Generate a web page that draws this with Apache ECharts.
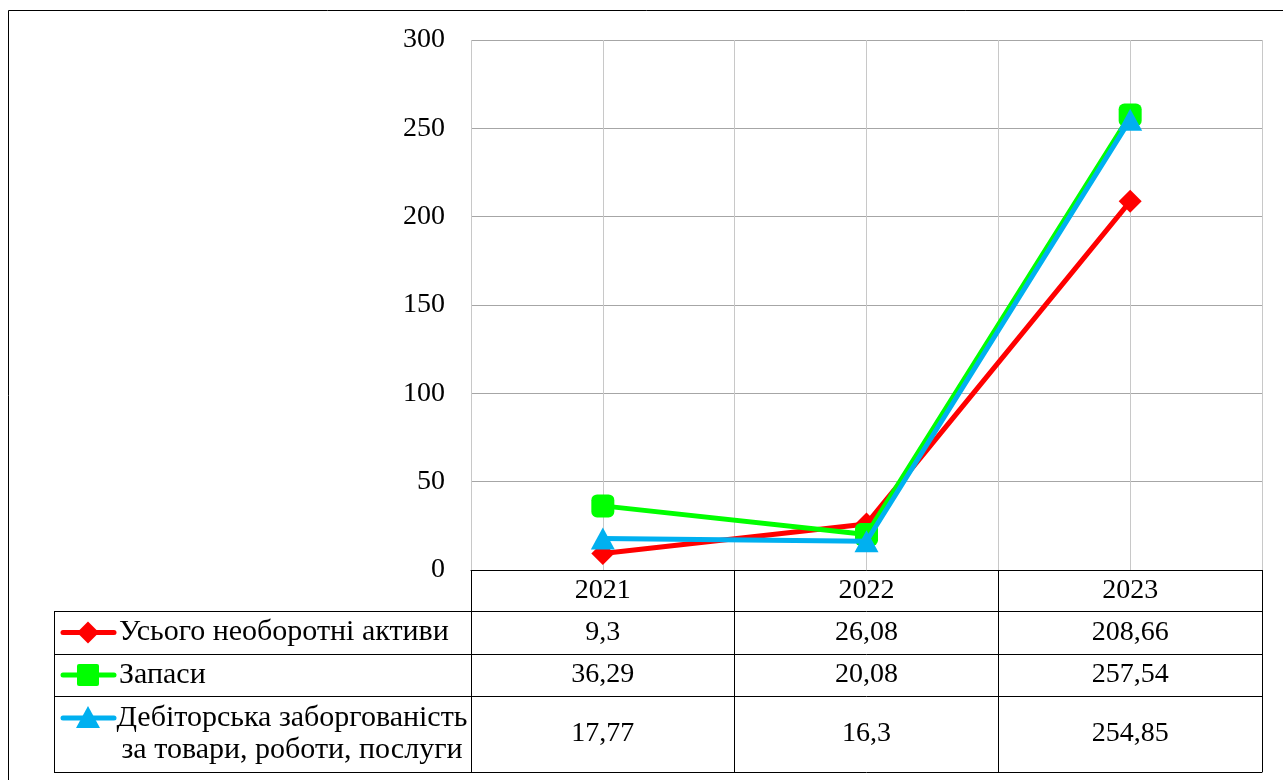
<!DOCTYPE html>
<html>
<head>
<meta charset="utf-8">
<script src="https://cdn.jsdelivr.net/npm/echarts@6/dist/echarts.min.js"></script>
<style>
  html, body { margin: 0; padding: 0; background: #ffffff; }
  #chart { width: 1283px; height: 780px; }
</style>
</head>
<body>
<div id="chart"></div>
<script>
// Years on the category axis
const years = ['2021', '2022', '2023'];

// Series names and values
const seriesNames = [
  'Усього необоротні активи',
  'Запаси',
  'Дебіторська заборгованість\nза товари, роботи, послуги'
];
const nonCurrentAssets = [9.3, 26.08, 208.66];
const inventories = [36.29, 20.08, 257.54];
const receivables = [17.77, 16.3, 254.85];

// Value-axis ticks
const yMin = 0, yMax = 300, yStep = 50;

const FONT = '"Liberation Serif", "Times New Roman", serif';
const NUM_SIZE = 28;
const KEY_SIZE = 30;
const colors = ['#ff0000', '#00ff00', '#00b0f0'];
const symbols = ['diamond', 'roundRect', 'triangle'];
const values = [nonCurrentAssets, inventories, receivables];

// Plot-area geometry
const G = { left: 471, right: 21, top: 40, bottom: 210 };
const plotBottom = 780 - G.bottom;           // 570
const headerH = 41;
const rowHeights = [43, 42, 76];
const tableLeft = 54;

const fmt = v => String(v).replace('.', ',');

const chart = echarts.init(document.getElementById('chart'), null, { renderer: 'canvas' });

// Row top offsets measured from the bottom of the plot
const rowOffsets = [];
let acc = headerH;
rowHeights.forEach(h => { rowOffsets.push(acc); acc += h; });
const tableBottomOffset = acc;

const xAxes = [
  // Year header row; ticks form the column borders
  {
    type: 'category', data: years, gridIndex: 0, position: 'bottom', boundaryGap: true,
    axisLine: { show: true, lineStyle: { color: '#000', width: 1 } },
    axisTick: { show: true, interval: 0, length: headerH, lineStyle: { color: '#000', width: 1 } },
    axisLabel: { fontFamily: FONT, fontSize: NUM_SIZE, color: '#000', margin: headerH / 2, verticalAlign: 'middle' },
    splitLine: { show: false }
  },
  // Half-category grid lines (category centres and boundaries)
  {
    type: 'value', min: 0, max: 6, interval: 1, position: 'top', gridIndex: 0,
    axisLine: { show: false }, axisTick: { show: false }, axisLabel: { show: false },
    splitLine: { show: true, lineStyle: { color: '#c8c8c8', width: 1 } }
  }
];

// One axis per table row, labelled with the series values
values.forEach((arr, i) => {
  xAxes.push({
    type: 'category', data: arr.map(fmt), gridIndex: 0, position: 'bottom',
    offset: rowOffsets[i], boundaryGap: true,
    axisLine: { show: true, lineStyle: { color: '#000', width: 1 } },
    axisTick: { show: true, interval: 0, length: rowHeights[i], lineStyle: { color: '#000', width: 1 } },
    axisLabel: { fontFamily: FONT, fontSize: NUM_SIZE, color: '#000', margin: rowHeights[i] / 2, verticalAlign: 'middle', interval: 0 },
    splitLine: { show: false }
  });
});
// Closing bottom border of the table
xAxes.push({
  type: 'category', data: years, gridIndex: 0, position: 'bottom', offset: tableBottomOffset,
  axisLine: { show: true, lineStyle: { color: '#000', width: 1 } },
  axisTick: { show: false }, axisLabel: { show: false }, splitLine: { show: false }
});

const series = values.map((arr, i) => ({
  name: seriesNames[i],
  type: 'line',
  xAxisIndex: 0,
  yAxisIndex: 0,
  data: arr,
  symbol: symbols[i],
  symbolSize: i === 2 ? [24, 22] : 23,
  itemStyle: { color: colors[i] },
  lineStyle: { color: colors[i], width: 5, cap: 'round', join: 'round' },
  z: 3 + i,
  animation: false
}));

// Legend column of the data table
const rowTops = rowOffsets.map(o => plotBottom + o);
const graphic = [];
// outer frame
graphic.push({ type: 'rect', shape: { x: 8.5, y: 10.5, width: 1300, height: 800 },
  style: { fill: 'none', stroke: '#000', lineWidth: 1 }, silent: true });
// horizontal borders in the legend column
[...rowTops, plotBottom + tableBottomOffset].forEach(y => {
  graphic.push({ type: 'line', shape: { x1: tableLeft, y1: y + 0.5, x2: G.left, y2: y + 0.5 },
    style: { stroke: '#000', lineWidth: 1 }, silent: true });
});
graphic.push({ type: 'line', shape: { x1: tableLeft + 0.5, y1: rowTops[0], x2: tableLeft + 0.5, y2: plotBottom + tableBottomOffset },
  style: { stroke: '#000', lineWidth: 1 }, silent: true });

const keyY = [rowTops[0] + rowHeights[0] / 2, rowTops[1] + rowHeights[1] / 2, rowTops[2] + 22];
const keyCx = 88;
keyY.forEach((y, i) => {
  graphic.push({ type: 'line', shape: { x1: 63, y1: y, x2: 114, y2: y },
    style: { stroke: colors[i], lineWidth: 5, lineCap: 'round' }, silent: true, z: 10 });
  let mark;
  if (i === 0) {
    mark = { type: 'polygon', shape: { points: [[keyCx, y - 11], [keyCx + 11, y], [keyCx, y + 11], [keyCx - 11, y]] } };
  } else if (i === 1) {
    mark = { type: 'rect', shape: { x: keyCx - 11, y: y - 11, width: 22, height: 22, r: 2 } };
  } else {
    mark = { type: 'polygon', shape: { points: [[keyCx, y - 12], [keyCx + 12, y + 10], [keyCx - 12, y + 10]] } };
  }
  mark.style = { fill: colors[i] };
  mark.silent = true; mark.z = 11;
  graphic.push(mark);
});
const keyFont = KEY_SIZE + 'px ' + FONT;
graphic.push({ type: 'text', x: 119, y: keyY[0], silent: true, z: 12,
  style: { text: seriesNames[0], font: keyFont, fill: '#000', verticalAlign: 'middle', textAlign: 'left' } });
graphic.push({ type: 'text', x: 119, y: keyY[1], silent: true, z: 12,
  style: { text: seriesNames[1], font: keyFont, fill: '#000', verticalAlign: 'middle', textAlign: 'left' } });
const recvLines = seriesNames[2].split('\n');
graphic.push({ type: 'text', x: 292, y: keyY[2], silent: true, z: 12,
  style: { text: recvLines[0], font: keyFont, fill: '#000', verticalAlign: 'middle', textAlign: 'center' } });
graphic.push({ type: 'text', x: 292, y: keyY[2] + 32, silent: true, z: 12,
  style: { text: recvLines[1], font: keyFont, fill: '#000', verticalAlign: 'middle', textAlign: 'center' } });

chart.setOption({
  animation: false,
  backgroundColor: '#ffffff',
  grid: { left: G.left, right: G.right, top: G.top, bottom: G.bottom, containLabel: false },
  xAxis: xAxes,
  yAxis: {
    type: 'value', min: yMin, max: yMax, interval: yStep,
    axisLine: { show: false }, axisTick: { show: false },
    axisLabel: { fontFamily: FONT, fontSize: NUM_SIZE, color: '#000', margin: 26 },
    splitLine: { show: true, lineStyle: { color: '#a6a6a6', width: 1 } }
  },
  legend: { show: false },
  series: series,
  graphic: graphic
});
</script>
</body>
</html>
